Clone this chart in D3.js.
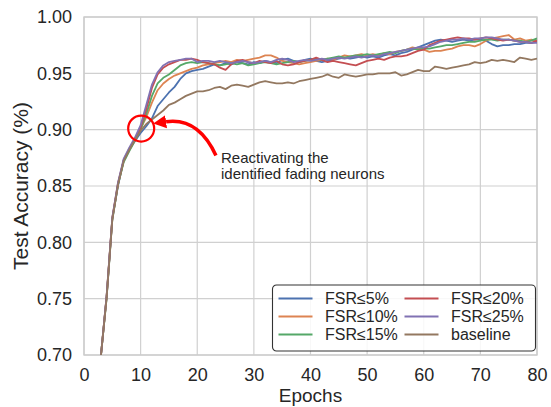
<!DOCTYPE html>
<html>
<head>
<meta charset="utf-8">
<script src="https://cdn.jsdelivr.net/npm/d3@7"></script>
<style>
  body { margin: 0; background: #fff; }
  svg { display: block; font-family: "Liberation Sans", Arial, sans-serif; }
</style>
</head>
<body>
<svg id="chart"></svg>
<script>
// epochs 2..80
const epochs = d3.range(2, 81);

const fsr5 = [0.62,0.70,0.752,0.821,0.850,0.873,0.883,0.890,0.897,
  0.903,0.910,0.921,0.927,0.933,0.938,0.945,0.950,0.952,0.953,
  0.954,0.956,0.958,0.957,0.959,0.958,0.960,0.959,0.958,0.960,
  0.959,0.961,0.960,0.959,0.962,0.963,0.961,0.960,0.962,0.963,
  0.961,0.960,0.961,0.962,0.963,0.964,0.963,0.964,0.965,0.964,
  0.965,0.964,0.966,0.967,0.966,0.968,0.969,0.971,0.973,0.975,
  0.977,0.979,0.980,0.979,0.978,0.979,0.980,0.979,0.980,0.980,
  0.979,0.976,0.974,0.975,0.975,0.976,0.976,0.977,0.977,0.978];

const fsr10 = [0.62,0.70,0.753,0.822,0.852,0.872,0.882,0.892,0.901,
  0.911,0.924,0.935,0.941,0.945,0.948,0.950,0.952,0.954,0.955,
  0.957,0.958,0.959,0.960,0.961,0.960,0.962,0.961,0.962,0.963,
  0.964,0.966,0.966,0.964,0.961,0.960,0.959,0.958,0.959,0.960,
  0.961,0.962,0.963,0.962,0.964,0.966,0.965,0.966,0.967,0.966,
  0.967,0.966,0.968,0.967,0.969,0.970,0.971,0.973,0.972,0.971,
  0.969,0.970,0.970,0.971,0.972,0.974,0.975,0.975,0.974,0.976,
  0.979,0.981,0.982,0.983,0.984,0.980,0.981,0.979,0.980,0.979];

const fsr15 = [0.62,0.70,0.751,0.820,0.851,0.871,0.881,0.890,0.900,
  0.914,0.930,0.941,0.946,0.949,0.953,0.957,0.959,0.960,0.959,
  0.960,0.959,0.958,0.957,0.958,0.959,0.958,0.959,0.957,0.958,
  0.959,0.960,0.959,0.958,0.959,0.960,0.961,0.960,0.961,0.962,
  0.963,0.962,0.963,0.964,0.965,0.964,0.965,0.966,0.966,0.967,
  0.966,0.967,0.968,0.969,0.968,0.970,0.971,0.972,0.971,0.972,
  0.972,0.973,0.974,0.975,0.975,0.976,0.977,0.978,0.978,0.979,
  0.980,0.980,0.979,0.980,0.980,0.979,0.979,0.978,0.979,0.981];

const fsr20 = [0.62,0.70,0.752,0.821,0.852,0.873,0.883,0.891,0.902,
  0.918,0.937,0.949,0.955,0.958,0.960,0.962,0.962,0.963,0.962,
  0.960,0.959,0.958,0.955,0.953,0.958,0.961,0.962,0.960,0.959,
  0.961,0.960,0.959,0.961,0.958,0.957,0.958,0.960,0.961,0.962,
  0.964,0.962,0.960,0.961,0.960,0.959,0.958,0.957,0.959,0.961,
  0.962,0.963,0.962,0.964,0.965,0.965,0.966,0.968,0.970,0.971,
  0.975,0.977,0.979,0.980,0.981,0.982,0.981,0.981,0.980,0.981,
  0.982,0.981,0.980,0.979,0.980,0.979,0.978,0.978,0.977,0.979];

const fsr25 = [0.62,0.70,0.753,0.822,0.853,0.874,0.884,0.893,0.904,
  0.922,0.940,0.951,0.957,0.960,0.961,0.962,0.963,0.963,0.960,
  0.961,0.961,0.960,0.961,0.960,0.959,0.960,0.961,0.960,0.959,
  0.960,0.961,0.960,0.962,0.963,0.962,0.960,0.961,0.962,0.961,
  0.962,0.963,0.962,0.963,0.964,0.963,0.964,0.965,0.964,0.965,
  0.966,0.965,0.967,0.968,0.969,0.970,0.971,0.972,0.973,0.973,
  0.974,0.976,0.978,0.979,0.980,0.980,0.981,0.980,0.981,0.981,
  0.982,0.982,0.981,0.980,0.980,0.979,0.978,0.978,0.977,0.977];

const baseline = [0.62,0.70,0.751,0.820,0.851,0.872,0.882,0.891,0.899,
  0.905,0.909,0.913,0.917,0.922,0.924,0.927,0.930,0.932,0.934,
  0.934,0.935,0.937,0.938,0.936,0.939,0.940,0.939,0.938,0.940,
  0.942,0.943,0.942,0.941,0.941,0.942,0.941,0.943,0.944,0.945,
  0.946,0.947,0.949,0.947,0.946,0.949,0.948,0.947,0.948,0.949,
  0.949,0.950,0.950,0.950,0.951,0.948,0.949,0.951,0.953,0.952,
  0.952,0.956,0.955,0.954,0.955,0.956,0.957,0.958,0.960,0.959,
  0.960,0.962,0.961,0.962,0.961,0.960,0.964,0.963,0.962,0.963];

const seriesNames = ["FSR≤5%", "FSR≤10%", "FSR≤15%", "FSR≤20%", "FSR≤25%", "baseline"];
const seriesValues = [fsr5, fsr10, fsr15, fsr20, fsr25, baseline];
const colors = ["#4c72b0", "#dd8452", "#55a868", "#c44e52", "#8172b3", "#937860"];

const xTicks = [0, 10, 20, 30, 40, 50, 60, 70, 80];
const yTicks = [0.70, 0.75, 0.80, 0.85, 0.90, 0.95, 1.00];
const noteLines = ["Reactivating the", "identified fading neurons"];

const W = 551, H = 407;
const margin = { top: 17, right: 14, bottom: 52, left: 84 };
const width = W - margin.left - margin.right;
const height = H - margin.top - margin.bottom;
const ink = "#262626";

const svg = d3.select("#chart").attr("width", W).attr("height", H);
const g = svg.append("g").attr("transform", `translate(${margin.left},${margin.top})`);

const x = d3.scaleLinear().domain([0, 80]).range([0, width]);
const y = d3.scaleLinear().domain([0.70, 1.00]).range([height, 0]);

// grid
g.append("g").selectAll("line").data(xTicks).join("line")
    .attr("x1", d => x(d)).attr("x2", d => x(d))
    .attr("y1", 0).attr("y2", height)
    .attr("stroke", "#d0d0d0").attr("stroke-width", 1.2);
g.append("g").selectAll("line").data(yTicks).join("line")
    .attr("x1", 0).attr("x2", width)
    .attr("y1", d => y(d)).attr("y2", d => y(d))
    .attr("stroke", "#d0d0d0").attr("stroke-width", 1.2);

g.append("rect")
    .attr("width", width).attr("height", height)
    .attr("fill", "none").attr("stroke", "#cccccc").attr("stroke-width", 1.4);

// axes
const xAxis = g.append("g").attr("transform", `translate(0,${height})`)
    .call(d3.axisBottom(x).tickValues(xTicks).tickSize(0).tickPadding(13));
const yAxis = g.append("g")
    .call(d3.axisLeft(y).tickValues(yTicks).tickSize(0).tickPadding(12).tickFormat(d3.format(".2f")));
[xAxis, yAxis].forEach(a => {
    a.select(".domain").remove();
    a.selectAll("text").attr("fill", ink).style("font-size", "18px")
        .style("font-family", "'Liberation Sans', Arial, sans-serif");
});

svg.append("text")
    .attr("x", margin.left + width / 2).attr("y", 402)
    .attr("text-anchor", "middle").attr("fill", ink)
    .style("font-size", "19px").text("Epochs");
svg.append("text")
    .attr("transform", `translate(28,${margin.top + height / 2}) rotate(-90)`)
    .attr("text-anchor", "middle").attr("fill", ink)
    .style("font-size", "21px").text("Test Accuracy (%)");

// lines
svg.append("clipPath").attr("id", "plot-clip")
    .append("rect").attr("width", width).attr("height", height);

const line = d3.line().x((d, i) => x(epochs[i])).y(d => y(d));
g.append("g").attr("clip-path", "url(#plot-clip)")
    .selectAll("path").data(seriesValues).join("path")
    .attr("d", line)
    .attr("fill", "none")
    .attr("stroke", (d, i) => colors[i])
    .attr("stroke-width", 1.8)
    .attr("stroke-linejoin", "round");

// annotation
g.append("circle")
    .attr("cx", x(10.1)).attr("cy", y(0.901)).attr("r", 13)
    .attr("fill", "none").attr("stroke", "red").attr("stroke-width", 2.2);

svg.append("defs").append("marker")
    .attr("id", "arrowhead")
    .attr("viewBox", "0 0 12 12")
    .attr("refX", 0).attr("refY", 6)
    .attr("markerUnits", "userSpaceOnUse")
    .attr("markerWidth", 13).attr("markerHeight", 15)
    .attr("orient", "auto")
    .append("path").attr("d", "M0,0 L12,6 L0,12 Z").attr("fill", "red");

const tail = [x(23.3), y(0.877)], ctrl = [x(20.2), y(0.911)], head = [x(14.5), y(0.907)];
g.append("path")
    .attr("d", `M${tail[0]},${tail[1]} Q${ctrl[0]},${ctrl[1]} ${head[0]},${head[1]}`)
    .attr("fill", "none").attr("stroke", "red").attr("stroke-width", 3.5)
    .attr("marker-end", "url(#arrowhead)");

g.append("g").selectAll("text").data(noteLines).join("text")
    .attr("x", x(24.2)).attr("y", (d, i) => y(0.8705) + i * 16)
    .attr("fill", ink).style("font-size", "15px")
    .text(d => d);

// legend
const legend = svg.append("g").attr("transform", "translate(272.5,285)");
legend.append("rect")
    .attr("width", 263).attr("height", 66).attr("rx", 4)
    .attr("fill", "white").attr("fill-opacity", 0.85)
    .attr("stroke", "#333").attr("stroke-width", 1.1);

const items = legend.selectAll("g.item").data(seriesNames).join("g")
    .attr("class", "item")
    .attr("transform", (d, i) => `translate(${i < 3 ? 6 : 132},${13.5 + (i % 3) * 18})`);
items.append("line")
    .attr("x1", 0).attr("x2", 34)
    .attr("stroke", (d, i) => colors[i]).attr("stroke-width", 1.8);
items.append("text")
    .attr("x", 46.5).attr("dy", "0.36em")
    .attr("fill", ink).style("font-size", "16px")
    .text(d => d);
</script>
</body>
</html>
